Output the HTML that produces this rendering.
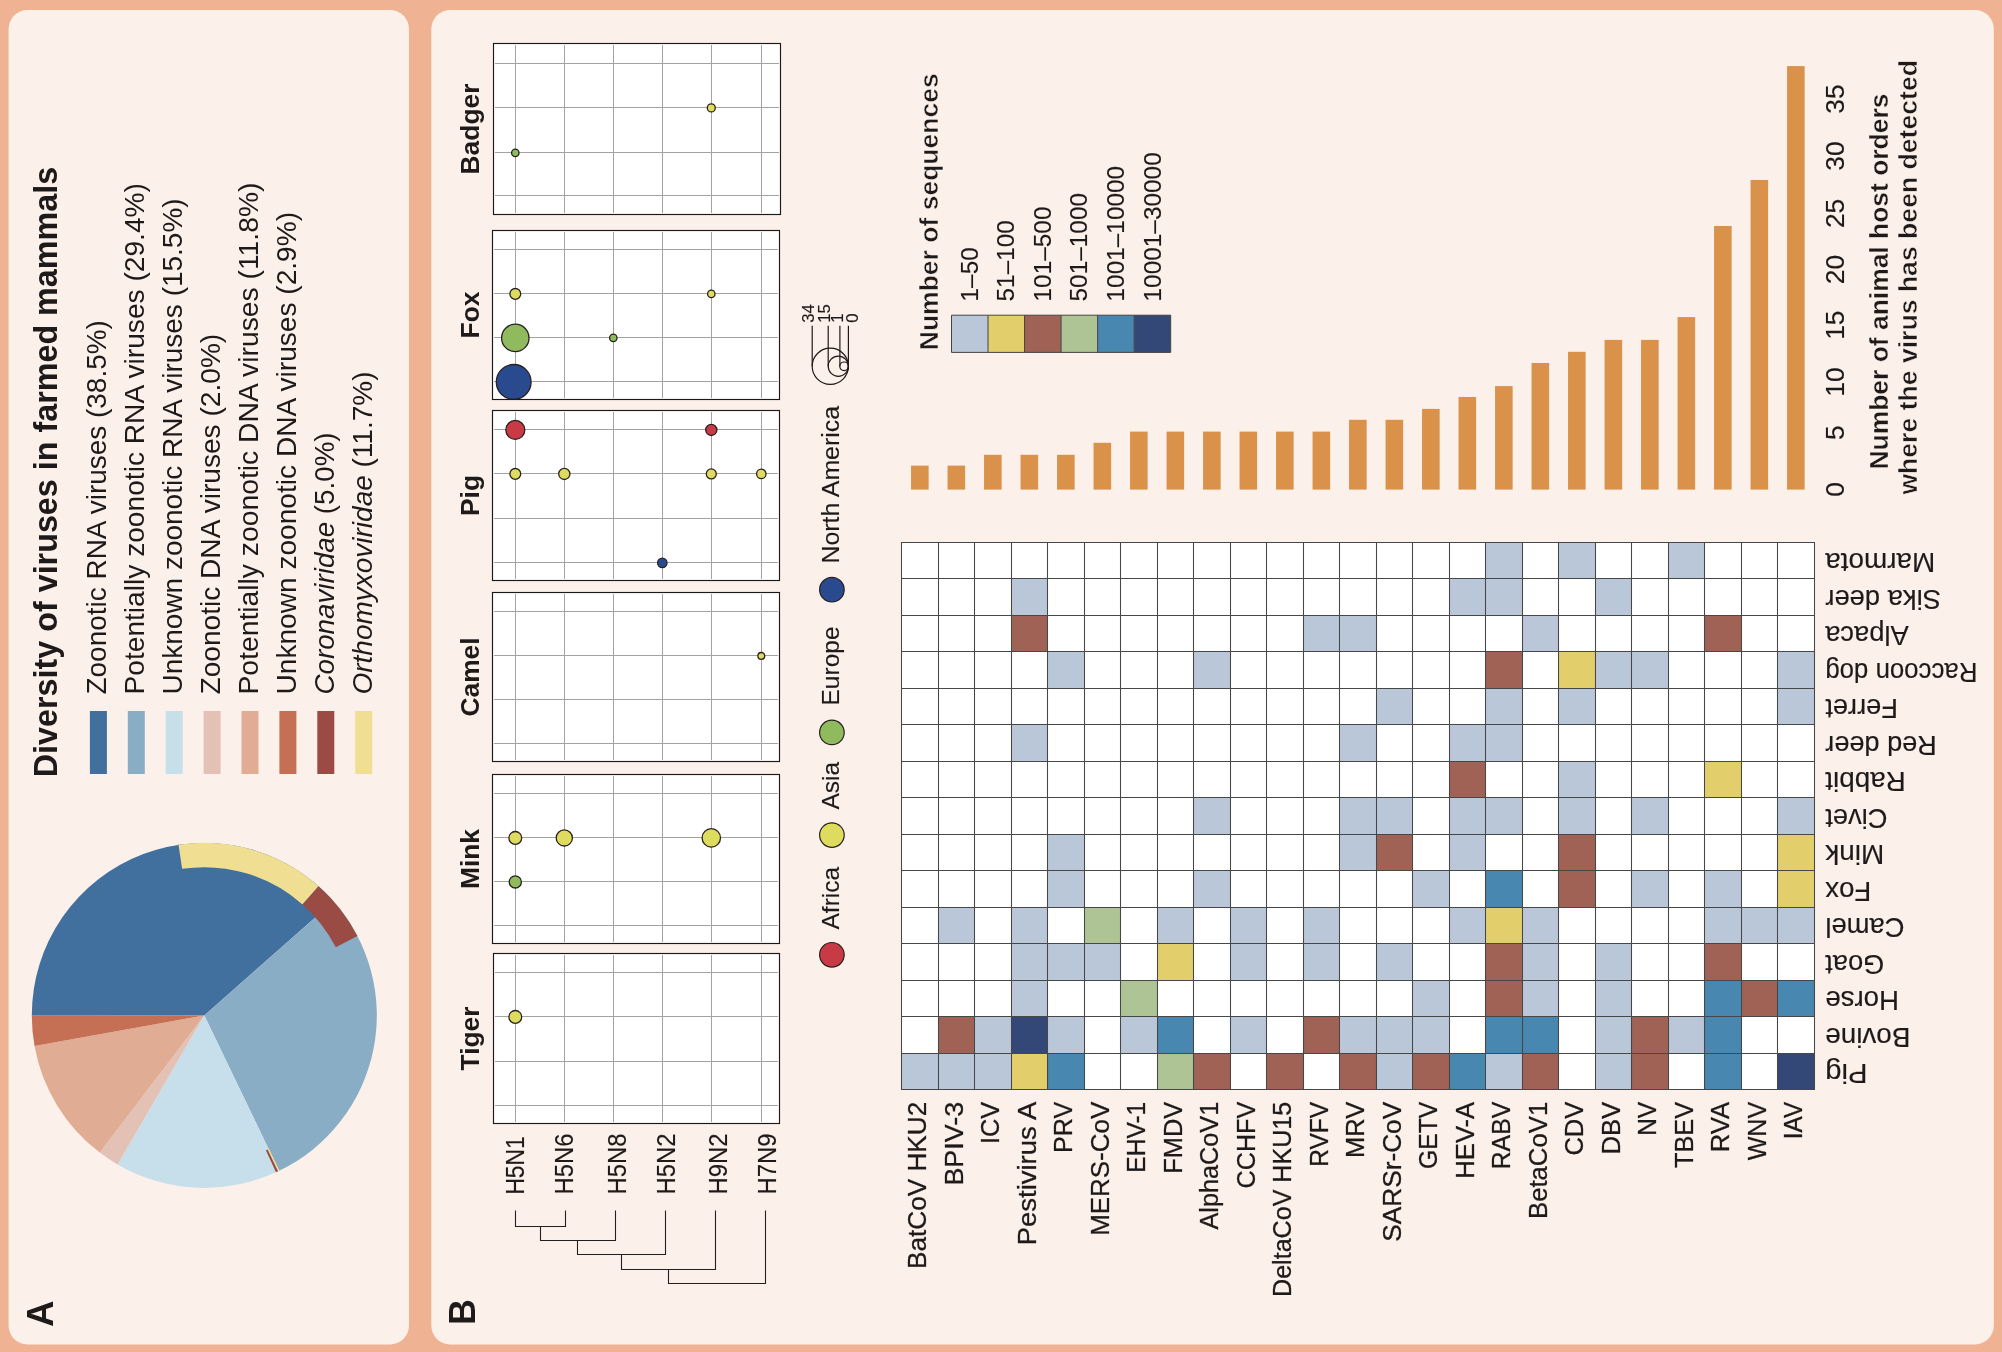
<!DOCTYPE html>
<html><head><meta charset="utf-8"><style>html,body{margin:0;padding:0;background:#EFB394;}svg{display:block;will-change:transform;} .r{stroke:#1E1A1A;stroke-width:0.15px;} .r2{stroke:#1E1A1A;stroke-width:0.3px;}</style></head>
<body><svg width="2002" height="1352" viewBox="0 0 2002 1352" font-family="&quot;Liberation Sans&quot;, sans-serif">
<rect x="0" y="0" width="2002" height="1352" fill="#EFB394"/>
<rect x="8.6" y="10" width="400.4" height="1334.5" rx="19" fill="#FCF1EA"/>
<rect x="431.3" y="10" width="1562.5" height="1334.5" rx="19" fill="#FCF1EA"/>
<text transform="translate(52.90,1327.00) rotate(-90)" font-size="36.5" font-weight="bold" fill="#1E1A1A">A</text>
<text transform="translate(56.70,777.20) rotate(-90)" font-size="32.3" font-weight="bold" fill="#1E1A1A">Diversity of viruses in farmed mammals</text>
<rect x="89.90" y="711" width="17" height="63" fill="#41709F"/>
<text transform="translate(106.40,694.50) rotate(-90) scale(1.0435,1)" font-size="26.8" fill="#1E1A1A">Zoonotic RNA viruses (38.5%)</text>
<rect x="127.80" y="711" width="17" height="63" fill="#89ADC5"/>
<text transform="translate(144.30,694.50) rotate(-90) scale(1.0508,1)" font-size="26.8" fill="#1E1A1A">Potentially zoonotic RNA viruses (29.4%)</text>
<rect x="165.70" y="711" width="17" height="63" fill="#C6DFEA"/>
<text transform="translate(182.20,694.50) rotate(-90) scale(1.0446,1)" font-size="26.8" fill="#1E1A1A">Unknown zoonotic RNA viruses (15.5%)</text>
<rect x="203.60" y="711" width="17" height="63" fill="#E4C1B5"/>
<text transform="translate(220.10,694.50) rotate(-90) scale(1.0487,1)" font-size="26.8" fill="#1E1A1A">Zoonotic DNA viruses (2.0%)</text>
<rect x="241.50" y="711" width="17" height="63" fill="#E0AC93"/>
<text transform="translate(258.00,694.50) rotate(-90) scale(1.056,1)" font-size="26.8" fill="#1E1A1A">Potentially zoonotic DNA viruses (11.8%)</text>
<rect x="279.40" y="711" width="17" height="63" fill="#C56F54"/>
<text transform="translate(295.90,694.50) rotate(-90) scale(1.0487,1)" font-size="26.8" fill="#1E1A1A">Unknown zoonotic DNA viruses (2.9%)</text>
<rect x="317.30" y="711" width="17" height="63" fill="#9A4B43"/>
<text transform="translate(333.80,694.5) rotate(-90) scale(1.0352,1)" font-size="26.8" fill="#1E1A1A"><tspan font-style="italic">Coronaviridae</tspan> (5.0%)</text>
<rect x="355.20" y="711" width="17" height="63" fill="#F0DE93"/>
<text transform="translate(371.70,694.5) rotate(-90) scale(1.0446,1)" font-size="26.8" fill="#1E1A1A"><tspan font-style="italic">Orthomyxoviridae</tspan> (11.7%)</text>
<path d="M204.30,1015.40 L31.80,1015.40 A172.5,172.5 0 0 1 333.69,901.32 Z" fill="#41709F"/>
<path d="M204.30,1015.40 L333.69,901.32 A172.5,172.5 0 0 1 279.11,1170.84 Z" fill="#89ADC5"/>
<path d="M204.30,1015.40 L279.11,1170.84 A172.5,172.5 0 0 1 117.53,1164.49 Z" fill="#C6DFEA"/>
<path d="M204.30,1015.40 L117.53,1164.49 A172.5,172.5 0 0 1 99.77,1152.62 Z" fill="#E4C1B5"/>
<path d="M204.30,1015.40 L99.77,1152.62 A172.5,172.5 0 0 1 34.53,1045.95 Z" fill="#E0AC93"/>
<path d="M204.30,1015.40 L34.53,1045.95 A172.5,172.5 0 0 1 31.80,1015.25 Z" fill="#C56F54"/>
<path d="M178.51,844.84 A172.5,172.5 0 0 1 318.60,886.21 L302.50,904.40 A148.2,148.2 0 0 0 182.14,868.87 Z" fill="#F0DE93"/>
<path d="M318.60,886.21 A172.5,172.5 0 0 1 357.45,936.02 L335.87,947.20 A148.2,148.2 0 0 0 302.50,904.40 Z" fill="#9A4B43"/>
<path d="M279.51,1170.64 A172.5,172.5 0 0 1 278.02,1171.35 L267.63,1149.39 A148.2,148.2 0 0 0 268.92,1148.77 Z" fill="#F0DE93"/>
<path d="M278.02,1171.35 A172.5,172.5 0 0 1 275.97,1172.31 L265.88,1150.20 A148.2,148.2 0 0 0 267.63,1149.39 Z" fill="#9A4B43"/>
<text transform="translate(475.00,1325.00) rotate(-90)" font-size="36.0" font-weight="bold" fill="#1E1A1A">B</text>
<rect x="493.5" y="43.5" width="287.0" height="171.0" fill="#FFFFFF"/>
<clipPath id="cpBadger"><rect x="493.5" y="43.5" width="287.0" height="171.0"/></clipPath>
<g clip-path="url(#cpBadger)">
<path d="M515.5,45.0 V213.0 M564.5,45.0 V213.0 M613.5,45.0 V213.0 M662.5,45.0 V213.0 M711.5,45.0 V213.0 M761.5,45.0 V213.0 M495.0,63.5 H779.0 M495.0,107.5 H779.0 M495.0,152.5 H779.0 M495.0,195.5 H779.0" stroke="#A3A3A3" stroke-width="1" fill="none"/>
<circle cx="711.3" cy="107.90" r="4.00" fill="#DDDC5E" stroke="#2A2020" stroke-width="1.3"/>
<circle cx="515.3" cy="152.90" r="3.70" fill="#8FBA5E" stroke="#2A2020" stroke-width="1.3"/>
</g>
<rect x="493.5" y="43.5" width="287.0" height="171.0" fill="none" stroke="#1E1818" stroke-width="1.15"/>
<text transform="translate(479.10,129.00) rotate(-90)" font-size="26.4" font-weight="bold" text-anchor="middle" fill="#1E1A1A">Badger</text>
<rect x="492.5" y="230.5" width="287.0" height="169.0" fill="#FFFFFF"/>
<clipPath id="cpFox"><rect x="492.5" y="230.5" width="287.0" height="169.0"/></clipPath>
<g clip-path="url(#cpFox)">
<path d="M515.5,232.0 V398.0 M564.5,232.0 V398.0 M613.5,232.0 V398.0 M662.5,232.0 V398.0 M711.5,232.0 V398.0 M761.5,232.0 V398.0 M494.0,249.5 H778.0 M494.0,293.5 H778.0 M494.0,337.5 H778.0 M494.0,381.5 H778.0" stroke="#A3A3A3" stroke-width="1" fill="none"/>
<circle cx="515.3" cy="293.90" r="5.40" fill="#DDDC5E" stroke="#2A2020" stroke-width="1.3"/>
<circle cx="515.3" cy="337.90" r="13.70" fill="#8FBA5E" stroke="#2A2020" stroke-width="1.3"/>
<circle cx="513.6999999999999" cy="381.90" r="17.40" fill="#294A8E" stroke="#2A2020" stroke-width="1.3"/>
<circle cx="613.3" cy="337.90" r="3.70" fill="#8FBA5E" stroke="#2A2020" stroke-width="1.3"/>
<circle cx="711.3" cy="293.90" r="3.70" fill="#DDDC5E" stroke="#2A2020" stroke-width="1.3"/>
</g>
<rect x="492.5" y="230.5" width="287.0" height="169.0" fill="none" stroke="#1E1818" stroke-width="1.15"/>
<text transform="translate(479.10,315.00) rotate(-90)" font-size="26.4" font-weight="bold" text-anchor="middle" fill="#1E1A1A">Fox</text>
<rect x="492.5" y="410.5" width="287.0" height="170.0" fill="#FFFFFF"/>
<clipPath id="cpPig"><rect x="492.5" y="410.5" width="287.0" height="170.0"/></clipPath>
<g clip-path="url(#cpPig)">
<path d="M515.5,412.0 V579.0 M564.5,412.0 V579.0 M613.5,412.0 V579.0 M662.5,412.0 V579.0 M711.5,412.0 V579.0 M761.5,412.0 V579.0 M494.0,429.5 H778.0 M494.0,473.5 H778.0 M494.0,518.5 H778.0 M494.0,562.5 H778.0" stroke="#A3A3A3" stroke-width="1" fill="none"/>
<circle cx="515.3" cy="429.90" r="9.50" fill="#C83A45" stroke="#2A2020" stroke-width="1.3"/>
<circle cx="711.3" cy="429.90" r="5.60" fill="#C83A45" stroke="#2A2020" stroke-width="1.3"/>
<circle cx="515.3" cy="473.90" r="5.40" fill="#DDDC5E" stroke="#2A2020" stroke-width="1.3"/>
<circle cx="564.3" cy="473.90" r="5.60" fill="#DDDC5E" stroke="#2A2020" stroke-width="1.3"/>
<circle cx="711.3" cy="473.90" r="5.00" fill="#DDDC5E" stroke="#2A2020" stroke-width="1.3"/>
<circle cx="761.3" cy="473.90" r="4.70" fill="#DDDC5E" stroke="#2A2020" stroke-width="1.3"/>
<circle cx="662.3" cy="562.90" r="4.70" fill="#294A8E" stroke="#2A2020" stroke-width="1.3"/>
</g>
<rect x="492.5" y="410.5" width="287.0" height="170.0" fill="none" stroke="#1E1818" stroke-width="1.15"/>
<text transform="translate(479.10,495.50) rotate(-90)" font-size="26.4" font-weight="bold" text-anchor="middle" fill="#1E1A1A">Pig</text>
<rect x="492.5" y="592.5" width="287.0" height="169.0" fill="#FFFFFF"/>
<clipPath id="cpCamel"><rect x="492.5" y="592.5" width="287.0" height="169.0"/></clipPath>
<g clip-path="url(#cpCamel)">
<path d="M515.5,594.0 V760.0 M564.5,594.0 V760.0 M613.5,594.0 V760.0 M662.5,594.0 V760.0 M711.5,594.0 V760.0 M761.5,594.0 V760.0 M494.0,611.5 H778.0 M494.0,655.5 H778.0 M494.0,699.5 H778.0 M494.0,743.5 H778.0" stroke="#A3A3A3" stroke-width="1" fill="none"/>
<circle cx="761.3" cy="655.90" r="3.40" fill="#DDDC5E" stroke="#2A2020" stroke-width="1.3"/>
</g>
<rect x="492.5" y="592.5" width="287.0" height="169.0" fill="none" stroke="#1E1818" stroke-width="1.15"/>
<text transform="translate(479.10,677.00) rotate(-90)" font-size="26.4" font-weight="bold" text-anchor="middle" fill="#1E1A1A">Camel</text>
<rect x="492.5" y="774.5" width="287.0" height="169.0" fill="#FFFFFF"/>
<clipPath id="cpMink"><rect x="492.5" y="774.5" width="287.0" height="169.0"/></clipPath>
<g clip-path="url(#cpMink)">
<path d="M515.5,776.0 V942.0 M564.5,776.0 V942.0 M613.5,776.0 V942.0 M662.5,776.0 V942.0 M711.5,776.0 V942.0 M761.5,776.0 V942.0 M494.0,793.5 H778.0 M494.0,837.5 H778.0 M494.0,881.5 H778.0 M494.0,925.5 H778.0" stroke="#A3A3A3" stroke-width="1" fill="none"/>
<circle cx="515.3" cy="837.90" r="6.40" fill="#DDDC5E" stroke="#2A2020" stroke-width="1.3"/>
<circle cx="564.3" cy="837.90" r="8.10" fill="#DDDC5E" stroke="#2A2020" stroke-width="1.3"/>
<circle cx="711.3" cy="837.90" r="9.20" fill="#DDDC5E" stroke="#2A2020" stroke-width="1.3"/>
<circle cx="515.3" cy="881.90" r="6.10" fill="#8FBA5E" stroke="#2A2020" stroke-width="1.3"/>
</g>
<rect x="492.5" y="774.5" width="287.0" height="169.0" fill="none" stroke="#1E1818" stroke-width="1.15"/>
<text transform="translate(479.10,859.00) rotate(-90)" font-size="26.4" font-weight="bold" text-anchor="middle" fill="#1E1A1A">Mink</text>
<rect x="493.5" y="953.5" width="286.0" height="170.0" fill="#FFFFFF"/>
<clipPath id="cpTiger"><rect x="493.5" y="953.5" width="286.0" height="170.0"/></clipPath>
<g clip-path="url(#cpTiger)">
<path d="M515.5,955.0 V1122.0 M564.5,955.0 V1122.0 M613.5,955.0 V1122.0 M662.5,955.0 V1122.0 M711.5,955.0 V1122.0 M761.5,955.0 V1122.0 M495.0,972.5 H778.0 M495.0,1016.5 H778.0 M495.0,1061.5 H778.0 M495.0,1105.5 H778.0" stroke="#A3A3A3" stroke-width="1" fill="none"/>
<circle cx="515.3" cy="1016.90" r="6.40" fill="#DDDC5E" stroke="#2A2020" stroke-width="1.3"/>
</g>
<rect x="493.5" y="953.5" width="286.0" height="170.0" fill="none" stroke="#1E1818" stroke-width="1.15"/>
<text transform="translate(479.10,1038.50) rotate(-90)" font-size="26.4" font-weight="bold" text-anchor="middle" fill="#1E1A1A">Tiger</text>
<text transform="translate(523.80,1194.60) rotate(-90) scale(0.905,1)" font-size="25.2" class="r" fill="#1E1A1A">H5N1</text>
<text transform="translate(572.80,1194.60) rotate(-90) scale(0.95,1)" font-size="25.2" class="r" fill="#1E1A1A">H5N6</text>
<text transform="translate(625.50,1194.60) rotate(-90) scale(0.95,1)" font-size="25.2" class="r" fill="#1E1A1A">H5N8</text>
<text transform="translate(675.10,1194.60) rotate(-90) scale(0.95,1)" font-size="25.2" class="r" fill="#1E1A1A">H5N2</text>
<text transform="translate(726.80,1194.60) rotate(-90) scale(0.95,1)" font-size="25.2" class="r" fill="#1E1A1A">H9N2</text>
<text transform="translate(775.70,1194.60) rotate(-90) scale(0.95,1)" font-size="25.2" class="r" fill="#1E1A1A">H7N9</text>
<path d="M515.5,1211 L515.5,1226.5 M565.5,1211 L565.5,1226.5 M515.5,1226.5 L565.5,1226.5 M540.5,1226.5 L540.5,1240.5 M615.5,1211 L615.5,1240.5 M540.5,1240.5 L615.5,1240.5 M577.5,1240.5 L577.5,1254.5 M665.5,1211 L665.5,1254.5 M577.5,1254.5 L665.5,1254.5 M621.5,1254.5 L621.5,1269.5 M715.5,1211 L715.5,1269.5 M621.5,1269.5 L715.5,1269.5 M668.5,1269.5 L668.5,1283.5 M765.5,1211 L765.5,1283.5 M668.5,1283.5 L765.5,1283.5" stroke="#231F20" stroke-width="1.1" fill="none" stroke-linecap="square"/>
<circle cx="831.9" cy="954.8" r="12.3" fill="#C83A45" stroke="#2A2020" stroke-width="1.2"/>
<text transform="translate(838.80,929.50) rotate(-90)" font-size="24.5" class="r" fill="#1E1A1A">Africa</text>
<circle cx="831.9" cy="835.1" r="12.3" fill="#DDDC5E" stroke="#2A2020" stroke-width="1.2"/>
<text transform="translate(838.80,809.50) rotate(-90)" font-size="24.5" class="r" fill="#1E1A1A">Asia</text>
<circle cx="831.9" cy="732.4" r="12.3" fill="#8FBA5E" stroke="#2A2020" stroke-width="1.2"/>
<text transform="translate(838.80,705.50) rotate(-90)" font-size="24.5" class="r" fill="#1E1A1A">Europe</text>
<circle cx="831.9" cy="589.7" r="12.3" fill="#294A8E" stroke="#2A2020" stroke-width="1.2"/>
<text transform="translate(838.80,563.50) rotate(-90) scale(1.015,1)" font-size="24.5" class="r" fill="#1E1A1A">North America</text>
<circle cx="830.3" cy="366.3" r="18.1" fill="none" stroke="#1E1818" stroke-width="1.2"/>
<circle cx="838.3" cy="366.3" r="10.1" fill="none" stroke="#1E1818" stroke-width="1.2"/>
<circle cx="844.1" cy="366.3" r="4.3" fill="none" stroke="#1E1818" stroke-width="1.2"/>
<line x1="812.2" y1="325.8" x2="812.2" y2="366.3" stroke="#1E1818" stroke-width="1.2"/>
<line x1="828.2" y1="325.8" x2="828.2" y2="366.3" stroke="#1E1818" stroke-width="1.2"/>
<line x1="839.9" y1="325.8" x2="839.9" y2="366.3" stroke="#1E1818" stroke-width="1.2"/>
<line x1="848.4" y1="325.8" x2="848.4" y2="369.5" stroke="#1E1818" stroke-width="1.2"/>
<text transform="translate(814.40,322.80) rotate(-90)" font-size="16.8" class="r" fill="#1E1A1A">34</text>
<text transform="translate(830.30,322.80) rotate(-90)" font-size="16.8" class="r" fill="#1E1A1A">15</text>
<text transform="translate(843.30,322.80) rotate(-90)" font-size="16.8" class="r" fill="#1E1A1A">1</text>
<text transform="translate(857.50,322.80) rotate(-90)" font-size="16.8" class="r" fill="#1E1A1A">0</text>
<rect x="901.5" y="542.5" width="913.0" height="547.0" fill="#FFFFFF"/>
<rect x="1485.5" y="542.5" width="37.0" height="36.0" fill="#B9C7D9"/>
<rect x="1558.5" y="542.5" width="37.0" height="36.0" fill="#B9C7D9"/>
<rect x="1668.5" y="542.5" width="36.0" height="36.0" fill="#B9C7D9"/>
<rect x="1011.5" y="578.5" width="36.0" height="37.0" fill="#B9C7D9"/>
<rect x="1449.5" y="578.5" width="36.0" height="37.0" fill="#B9C7D9"/>
<rect x="1485.5" y="578.5" width="37.0" height="37.0" fill="#B9C7D9"/>
<rect x="1595.5" y="578.5" width="36.0" height="37.0" fill="#B9C7D9"/>
<rect x="1011.5" y="615.5" width="36.0" height="36.0" fill="#A06255"/>
<rect x="1303.5" y="615.5" width="36.0" height="36.0" fill="#B9C7D9"/>
<rect x="1339.5" y="615.5" width="37.0" height="36.0" fill="#B9C7D9"/>
<rect x="1522.5" y="615.5" width="36.0" height="36.0" fill="#B9C7D9"/>
<rect x="1704.5" y="615.5" width="37.0" height="36.0" fill="#A06255"/>
<rect x="1047.5" y="651.5" width="37.0" height="37.0" fill="#B9C7D9"/>
<rect x="1193.5" y="651.5" width="37.0" height="37.0" fill="#B9C7D9"/>
<rect x="1485.5" y="651.5" width="37.0" height="37.0" fill="#A06255"/>
<rect x="1558.5" y="651.5" width="37.0" height="37.0" fill="#E2CF6C"/>
<rect x="1595.5" y="651.5" width="36.0" height="37.0" fill="#B9C7D9"/>
<rect x="1631.5" y="651.5" width="37.0" height="37.0" fill="#B9C7D9"/>
<rect x="1777.5" y="651.5" width="37.0" height="37.0" fill="#B9C7D9"/>
<rect x="1376.5" y="688.5" width="36.0" height="36.0" fill="#B9C7D9"/>
<rect x="1485.5" y="688.5" width="37.0" height="36.0" fill="#B9C7D9"/>
<rect x="1558.5" y="688.5" width="37.0" height="36.0" fill="#B9C7D9"/>
<rect x="1777.5" y="688.5" width="37.0" height="36.0" fill="#B9C7D9"/>
<rect x="1011.5" y="724.5" width="36.0" height="37.0" fill="#B9C7D9"/>
<rect x="1339.5" y="724.5" width="37.0" height="37.0" fill="#B9C7D9"/>
<rect x="1449.5" y="724.5" width="36.0" height="37.0" fill="#B9C7D9"/>
<rect x="1485.5" y="724.5" width="37.0" height="37.0" fill="#B9C7D9"/>
<rect x="1449.5" y="761.5" width="36.0" height="36.0" fill="#A06255"/>
<rect x="1558.5" y="761.5" width="37.0" height="36.0" fill="#B9C7D9"/>
<rect x="1704.5" y="761.5" width="37.0" height="36.0" fill="#E2CF6C"/>
<rect x="1193.5" y="797.5" width="37.0" height="37.0" fill="#B9C7D9"/>
<rect x="1339.5" y="797.5" width="37.0" height="37.0" fill="#B9C7D9"/>
<rect x="1376.5" y="797.5" width="36.0" height="37.0" fill="#B9C7D9"/>
<rect x="1449.5" y="797.5" width="36.0" height="37.0" fill="#B9C7D9"/>
<rect x="1485.5" y="797.5" width="37.0" height="37.0" fill="#B9C7D9"/>
<rect x="1558.5" y="797.5" width="37.0" height="37.0" fill="#B9C7D9"/>
<rect x="1631.5" y="797.5" width="37.0" height="37.0" fill="#B9C7D9"/>
<rect x="1777.5" y="797.5" width="37.0" height="37.0" fill="#B9C7D9"/>
<rect x="1047.5" y="834.5" width="37.0" height="36.0" fill="#B9C7D9"/>
<rect x="1339.5" y="834.5" width="37.0" height="36.0" fill="#B9C7D9"/>
<rect x="1376.5" y="834.5" width="36.0" height="36.0" fill="#A06255"/>
<rect x="1449.5" y="834.5" width="36.0" height="36.0" fill="#B9C7D9"/>
<rect x="1558.5" y="834.5" width="37.0" height="36.0" fill="#A06255"/>
<rect x="1777.5" y="834.5" width="37.0" height="36.0" fill="#E2CF6C"/>
<rect x="1047.5" y="870.5" width="37.0" height="37.0" fill="#B9C7D9"/>
<rect x="1193.5" y="870.5" width="37.0" height="37.0" fill="#B9C7D9"/>
<rect x="1412.5" y="870.5" width="37.0" height="37.0" fill="#B9C7D9"/>
<rect x="1485.5" y="870.5" width="37.0" height="37.0" fill="#4787B0"/>
<rect x="1558.5" y="870.5" width="37.0" height="37.0" fill="#A06255"/>
<rect x="1631.5" y="870.5" width="37.0" height="37.0" fill="#B9C7D9"/>
<rect x="1704.5" y="870.5" width="37.0" height="37.0" fill="#B9C7D9"/>
<rect x="1777.5" y="870.5" width="37.0" height="37.0" fill="#E2CF6C"/>
<rect x="938.5" y="907.5" width="36.0" height="36.0" fill="#B9C7D9"/>
<rect x="1011.5" y="907.5" width="36.0" height="36.0" fill="#B9C7D9"/>
<rect x="1084.5" y="907.5" width="36.0" height="36.0" fill="#AEC495"/>
<rect x="1157.5" y="907.5" width="36.0" height="36.0" fill="#B9C7D9"/>
<rect x="1230.5" y="907.5" width="36.0" height="36.0" fill="#B9C7D9"/>
<rect x="1303.5" y="907.5" width="36.0" height="36.0" fill="#B9C7D9"/>
<rect x="1449.5" y="907.5" width="36.0" height="36.0" fill="#B9C7D9"/>
<rect x="1485.5" y="907.5" width="37.0" height="36.0" fill="#E2CF6C"/>
<rect x="1522.5" y="907.5" width="36.0" height="36.0" fill="#B9C7D9"/>
<rect x="1704.5" y="907.5" width="37.0" height="36.0" fill="#B9C7D9"/>
<rect x="1741.5" y="907.5" width="36.0" height="36.0" fill="#B9C7D9"/>
<rect x="1777.5" y="907.5" width="37.0" height="36.0" fill="#B9C7D9"/>
<rect x="1011.5" y="943.5" width="36.0" height="37.0" fill="#B9C7D9"/>
<rect x="1047.5" y="943.5" width="37.0" height="37.0" fill="#B9C7D9"/>
<rect x="1084.5" y="943.5" width="36.0" height="37.0" fill="#B9C7D9"/>
<rect x="1157.5" y="943.5" width="36.0" height="37.0" fill="#E2CF6C"/>
<rect x="1230.5" y="943.5" width="36.0" height="37.0" fill="#B9C7D9"/>
<rect x="1303.5" y="943.5" width="36.0" height="37.0" fill="#B9C7D9"/>
<rect x="1376.5" y="943.5" width="36.0" height="37.0" fill="#B9C7D9"/>
<rect x="1485.5" y="943.5" width="37.0" height="37.0" fill="#A06255"/>
<rect x="1522.5" y="943.5" width="36.0" height="37.0" fill="#B9C7D9"/>
<rect x="1595.5" y="943.5" width="36.0" height="37.0" fill="#B9C7D9"/>
<rect x="1704.5" y="943.5" width="37.0" height="37.0" fill="#A06255"/>
<rect x="1011.5" y="980.5" width="36.0" height="36.0" fill="#B9C7D9"/>
<rect x="1120.5" y="980.5" width="37.0" height="36.0" fill="#AEC495"/>
<rect x="1412.5" y="980.5" width="37.0" height="36.0" fill="#B9C7D9"/>
<rect x="1485.5" y="980.5" width="37.0" height="36.0" fill="#A06255"/>
<rect x="1522.5" y="980.5" width="36.0" height="36.0" fill="#B9C7D9"/>
<rect x="1595.5" y="980.5" width="36.0" height="36.0" fill="#B9C7D9"/>
<rect x="1704.5" y="980.5" width="37.0" height="36.0" fill="#4787B0"/>
<rect x="1741.5" y="980.5" width="36.0" height="36.0" fill="#A06255"/>
<rect x="1777.5" y="980.5" width="37.0" height="36.0" fill="#4787B0"/>
<rect x="938.5" y="1016.5" width="36.0" height="37.0" fill="#A06255"/>
<rect x="974.5" y="1016.5" width="37.0" height="37.0" fill="#B9C7D9"/>
<rect x="1011.5" y="1016.5" width="36.0" height="37.0" fill="#344878"/>
<rect x="1047.5" y="1016.5" width="37.0" height="37.0" fill="#B9C7D9"/>
<rect x="1120.5" y="1016.5" width="37.0" height="37.0" fill="#B9C7D9"/>
<rect x="1157.5" y="1016.5" width="36.0" height="37.0" fill="#4787B0"/>
<rect x="1230.5" y="1016.5" width="36.0" height="37.0" fill="#B9C7D9"/>
<rect x="1303.5" y="1016.5" width="36.0" height="37.0" fill="#A06255"/>
<rect x="1339.5" y="1016.5" width="37.0" height="37.0" fill="#B9C7D9"/>
<rect x="1376.5" y="1016.5" width="36.0" height="37.0" fill="#B9C7D9"/>
<rect x="1412.5" y="1016.5" width="37.0" height="37.0" fill="#B9C7D9"/>
<rect x="1485.5" y="1016.5" width="37.0" height="37.0" fill="#4787B0"/>
<rect x="1522.5" y="1016.5" width="36.0" height="37.0" fill="#4787B0"/>
<rect x="1595.5" y="1016.5" width="36.0" height="37.0" fill="#B9C7D9"/>
<rect x="1631.5" y="1016.5" width="37.0" height="37.0" fill="#A06255"/>
<rect x="1668.5" y="1016.5" width="36.0" height="37.0" fill="#B9C7D9"/>
<rect x="1704.5" y="1016.5" width="37.0" height="37.0" fill="#4787B0"/>
<rect x="901.5" y="1053.5" width="37.0" height="36.0" fill="#B9C7D9"/>
<rect x="938.5" y="1053.5" width="36.0" height="36.0" fill="#B9C7D9"/>
<rect x="974.5" y="1053.5" width="37.0" height="36.0" fill="#B9C7D9"/>
<rect x="1011.5" y="1053.5" width="36.0" height="36.0" fill="#E2CF6C"/>
<rect x="1047.5" y="1053.5" width="37.0" height="36.0" fill="#4787B0"/>
<rect x="1157.5" y="1053.5" width="36.0" height="36.0" fill="#AEC495"/>
<rect x="1193.5" y="1053.5" width="37.0" height="36.0" fill="#A06255"/>
<rect x="1266.5" y="1053.5" width="37.0" height="36.0" fill="#A06255"/>
<rect x="1339.5" y="1053.5" width="37.0" height="36.0" fill="#A06255"/>
<rect x="1376.5" y="1053.5" width="36.0" height="36.0" fill="#B9C7D9"/>
<rect x="1412.5" y="1053.5" width="37.0" height="36.0" fill="#A06255"/>
<rect x="1449.5" y="1053.5" width="36.0" height="36.0" fill="#4787B0"/>
<rect x="1485.5" y="1053.5" width="37.0" height="36.0" fill="#B9C7D9"/>
<rect x="1522.5" y="1053.5" width="36.0" height="36.0" fill="#A06255"/>
<rect x="1595.5" y="1053.5" width="36.0" height="36.0" fill="#B9C7D9"/>
<rect x="1631.5" y="1053.5" width="37.0" height="36.0" fill="#A06255"/>
<rect x="1704.5" y="1053.5" width="37.0" height="36.0" fill="#4787B0"/>
<rect x="1777.5" y="1053.5" width="37.0" height="36.0" fill="#344878"/>
<path d="M901.5,542.5 V1089.5 M938.5,542.5 V1089.5 M974.5,542.5 V1089.5 M1011.5,542.5 V1089.5 M1047.5,542.5 V1089.5 M1084.5,542.5 V1089.5 M1120.5,542.5 V1089.5 M1157.5,542.5 V1089.5 M1193.5,542.5 V1089.5 M1230.5,542.5 V1089.5 M1266.5,542.5 V1089.5 M1303.5,542.5 V1089.5 M1339.5,542.5 V1089.5 M1376.5,542.5 V1089.5 M1412.5,542.5 V1089.5 M1449.5,542.5 V1089.5 M1485.5,542.5 V1089.5 M1522.5,542.5 V1089.5 M1558.5,542.5 V1089.5 M1595.5,542.5 V1089.5 M1631.5,542.5 V1089.5 M1668.5,542.5 V1089.5 M1704.5,542.5 V1089.5 M1741.5,542.5 V1089.5 M1777.5,542.5 V1089.5 M1814.5,542.5 V1089.5 M901.5,542.5 H1814.5 M901.5,578.5 H1814.5 M901.5,615.5 H1814.5 M901.5,651.5 H1814.5 M901.5,688.5 H1814.5 M901.5,724.5 H1814.5 M901.5,761.5 H1814.5 M901.5,797.5 H1814.5 M901.5,834.5 H1814.5 M901.5,870.5 H1814.5 M901.5,907.5 H1814.5 M901.5,943.5 H1814.5 M901.5,980.5 H1814.5 M901.5,1016.5 H1814.5 M901.5,1053.5 H1814.5 M901.5,1089.5 H1814.5" stroke="#474747" stroke-width="1.05" fill="none" stroke-linecap="square"/>
<text transform="translate(926.15,1101.80) rotate(-90) scale(0.9948,1)" font-size="26.3" text-anchor="end" class="r2" fill="#1E1A1A">BatCoV HKU2</text>
<text transform="translate(962.65,1101.80) rotate(-90) scale(1.0237,1)" font-size="26.3" text-anchor="end" class="r2" fill="#1E1A1A">BPIV-3</text>
<text transform="translate(999.15,1101.80) rotate(-90) scale(0.9629,1)" font-size="26.3" text-anchor="end" class="r2" fill="#1E1A1A">ICV</text>
<text transform="translate(1035.65,1101.80) rotate(-90) scale(1.045,1)" font-size="26.3" text-anchor="end" class="r2" fill="#1E1A1A">Pestivirus A</text>
<text transform="translate(1072.15,1101.80) rotate(-90) scale(0.9542,1)" font-size="26.3" text-anchor="end" class="r2" fill="#1E1A1A">PRV</text>
<text transform="translate(1108.65,1101.80) rotate(-90) scale(0.987,1)" font-size="26.3" text-anchor="end" class="r2" fill="#1E1A1A">MERS-CoV</text>
<text transform="translate(1145.15,1101.80) rotate(-90) scale(0.9329,1)" font-size="26.3" text-anchor="end" class="r2" fill="#1E1A1A">EHV-1</text>
<text transform="translate(1181.65,1101.80) rotate(-90) scale(0.9667,1)" font-size="26.3" text-anchor="end" class="r2" fill="#1E1A1A">FMDV</text>
<text transform="translate(1218.15,1101.80) rotate(-90) scale(0.96,1)" font-size="26.3" text-anchor="end" class="r2" fill="#1E1A1A">AlphaCoV1</text>
<text transform="translate(1254.65,1101.80) rotate(-90) scale(0.9561,1)" font-size="26.3" text-anchor="end" class="r2" fill="#1E1A1A">CCHFV</text>
<text transform="translate(1291.15,1101.80) rotate(-90) scale(0.9542,1)" font-size="26.3" text-anchor="end" class="r2" fill="#1E1A1A">DeltaCoV HKU15</text>
<text transform="translate(1327.65,1101.80) rotate(-90) scale(0.9329,1)" font-size="26.3" text-anchor="end" class="r2" fill="#1E1A1A">RVFV</text>
<text transform="translate(1364.15,1101.80) rotate(-90) scale(0.9696,1)" font-size="26.3" text-anchor="end" class="r2" fill="#1E1A1A">MRV</text>
<text transform="translate(1400.65,1101.80) rotate(-90) scale(0.9986,1)" font-size="26.3" text-anchor="end" class="r2" fill="#1E1A1A">SARSr-CoV</text>
<text transform="translate(1437.15,1101.80) rotate(-90) scale(0.9397,1)" font-size="26.3" text-anchor="end" class="r2" fill="#1E1A1A">GETV</text>
<text transform="translate(1473.65,1101.80) rotate(-90) scale(0.9745,1)" font-size="26.3" text-anchor="end" class="r2" fill="#1E1A1A">HEV-A</text>
<text transform="translate(1510.15,1101.80) rotate(-90) scale(0.9426,1)" font-size="26.3" text-anchor="end" class="r2" fill="#1E1A1A">RABV</text>
<text transform="translate(1546.65,1101.80) rotate(-90) scale(0.9783,1)" font-size="26.3" text-anchor="end" class="r2" fill="#1E1A1A">BetaCoV1</text>
<text transform="translate(1583.15,1101.80) rotate(-90) scale(0.9696,1)" font-size="26.3" text-anchor="end" class="r2" fill="#1E1A1A">CDV</text>
<text transform="translate(1619.65,1101.80) rotate(-90) scale(0.9754,1)" font-size="26.3" text-anchor="end" class="r2" fill="#1E1A1A">DBV</text>
<text transform="translate(1656.15,1101.80) rotate(-90) scale(0.931,1)" font-size="26.3" text-anchor="end" class="r2" fill="#1E1A1A">NV</text>
<text transform="translate(1692.65,1101.80) rotate(-90) scale(0.9658,1)" font-size="26.3" text-anchor="end" class="r2" fill="#1E1A1A">TBEV</text>
<text transform="translate(1729.15,1101.80) rotate(-90) scale(0.9764,1)" font-size="26.3" text-anchor="end" class="r2" fill="#1E1A1A">RVA</text>
<text transform="translate(1765.65,1101.80) rotate(-90) scale(0.9542,1)" font-size="26.3" text-anchor="end" class="r2" fill="#1E1A1A">WNV</text>
<text transform="translate(1802.15,1101.80) rotate(-90) scale(0.9233,1)" font-size="26.3" text-anchor="end" class="r2" fill="#1E1A1A">IAV</text>
<text transform="translate(1825.30,553.15) rotate(180) scale(1.032,1)" font-size="27.0" text-anchor="end" class="r" fill="#1E1A1A">Marmota</text>
<text transform="translate(1825.30,589.65) rotate(180) scale(1.014,1)" font-size="27.0" text-anchor="end" class="r" fill="#1E1A1A">Sika deer</text>
<text transform="translate(1825.30,626.15) rotate(180) scale(1.011,1)" font-size="27.0" text-anchor="end" class="r" fill="#1E1A1A">Alpaca</text>
<text transform="translate(1825.30,662.65) rotate(180) scale(0.956,1)" font-size="27.0" text-anchor="end" class="r" fill="#1E1A1A">Raccoon dog</text>
<text transform="translate(1825.30,699.15) rotate(180) scale(1.009,1)" font-size="27.0" text-anchor="end" class="r" fill="#1E1A1A">Ferret</text>
<text transform="translate(1825.30,735.65) rotate(180) scale(1.005,1)" font-size="27.0" text-anchor="end" class="r" fill="#1E1A1A">Red deer</text>
<text transform="translate(1825.30,772.15) rotate(180) scale(1.032,1)" font-size="27.0" text-anchor="end" class="r" fill="#1E1A1A">Rabbit</text>
<text transform="translate(1825.30,808.65) rotate(180) scale(1.012,1)" font-size="27.0" text-anchor="end" class="r" fill="#1E1A1A">Civet</text>
<text transform="translate(1825.30,845.15) rotate(180) scale(1.035,1)" font-size="27.0" text-anchor="end" class="r" fill="#1E1A1A">Mink</text>
<text transform="translate(1825.30,881.65) rotate(180) scale(1.024,1)" font-size="27.0" text-anchor="end" class="r" fill="#1E1A1A">Fox</text>
<text transform="translate(1825.30,918.15) rotate(180) scale(1.016,1)" font-size="27.0" text-anchor="end" class="r" fill="#1E1A1A">Camel</text>
<text transform="translate(1825.30,954.65) rotate(180) scale(1.009,1)" font-size="27.0" text-anchor="end" class="r" fill="#1E1A1A">Goat</text>
<text transform="translate(1825.30,991.15) rotate(180) scale(1.024,1)" font-size="27.0" text-anchor="end" class="r" fill="#1E1A1A">Horse</text>
<text transform="translate(1825.30,1027.65) rotate(180) scale(1.031,1)" font-size="27.0" text-anchor="end" class="r" fill="#1E1A1A">Bovine</text>
<text transform="translate(1825.30,1064.15) rotate(180) scale(1.082,1)" font-size="27.0" text-anchor="end" class="r" fill="#1E1A1A">Pig</text>
<text transform="translate(938.3,350.2) rotate(-90)" font-size="26.5" font-weight="bold" fill="#1E1A1A" stroke="#FCF1EA" stroke-width="0.5">Number of sequences</text>
<rect x="951.50" y="315.2" width="36.53" height="37.2" fill="#B9C7D9"/>
<text transform="translate(977.90,301.50) rotate(-90)" font-size="24.4" class="r" fill="#1E1A1A">1–50</text>
<rect x="988.03" y="315.2" width="36.53" height="37.2" fill="#E2CF6C"/>
<text transform="translate(1014.43,301.50) rotate(-90)" font-size="24.4" class="r" fill="#1E1A1A">51–100</text>
<rect x="1024.56" y="315.2" width="36.53" height="37.2" fill="#A06255"/>
<text transform="translate(1050.96,301.50) rotate(-90)" font-size="24.4" class="r" fill="#1E1A1A">101–500</text>
<rect x="1061.09" y="315.2" width="36.53" height="37.2" fill="#AEC495"/>
<text transform="translate(1087.49,301.50) rotate(-90)" font-size="24.4" class="r" fill="#1E1A1A">501–1000</text>
<rect x="1097.62" y="315.2" width="36.53" height="37.2" fill="#4787B0"/>
<text transform="translate(1124.02,301.50) rotate(-90)" font-size="24.4" class="r" fill="#1E1A1A">1001–10000</text>
<rect x="1134.15" y="315.2" width="36.53" height="37.2" fill="#344878"/>
<text transform="translate(1160.55,301.50) rotate(-90)" font-size="24.4" class="r" fill="#1E1A1A">10001–30000</text>
<path d="M951.5,315.2 H1170.7 V352.4 H951.5 Z M988.03,315.2 V352.4 M1024.56,315.2 V352.4 M1061.09,315.2 V352.4 M1097.62,315.2 V352.4 M1134.15,315.2 V352.4" stroke="#444444" stroke-width="1" fill="none"/>
<rect x="911.05" y="465.60" width="17.6" height="24" fill="#DA914A"/>
<rect x="947.55" y="465.60" width="17.6" height="24" fill="#DA914A"/>
<rect x="984.05" y="454.80" width="17.6" height="34.8" fill="#DA914A"/>
<rect x="1020.55" y="454.80" width="17.6" height="34.8" fill="#DA914A"/>
<rect x="1057.05" y="454.80" width="17.6" height="34.8" fill="#DA914A"/>
<rect x="1093.55" y="442.80" width="17.6" height="46.8" fill="#DA914A"/>
<rect x="1130.05" y="431.60" width="17.6" height="58" fill="#DA914A"/>
<rect x="1166.55" y="431.60" width="17.6" height="58" fill="#DA914A"/>
<rect x="1203.05" y="431.60" width="17.6" height="58" fill="#DA914A"/>
<rect x="1239.55" y="431.60" width="17.6" height="58" fill="#DA914A"/>
<rect x="1276.05" y="431.60" width="17.6" height="58" fill="#DA914A"/>
<rect x="1312.55" y="431.60" width="17.6" height="58" fill="#DA914A"/>
<rect x="1349.05" y="419.80" width="17.6" height="69.8" fill="#DA914A"/>
<rect x="1385.55" y="419.80" width="17.6" height="69.8" fill="#DA914A"/>
<rect x="1422.05" y="408.90" width="17.6" height="80.7" fill="#DA914A"/>
<rect x="1458.55" y="397.00" width="17.6" height="92.6" fill="#DA914A"/>
<rect x="1495.05" y="386.10" width="17.6" height="103.5" fill="#DA914A"/>
<rect x="1531.55" y="363.00" width="17.6" height="126.6" fill="#DA914A"/>
<rect x="1568.05" y="351.80" width="17.6" height="137.8" fill="#DA914A"/>
<rect x="1604.55" y="339.90" width="17.6" height="149.7" fill="#DA914A"/>
<rect x="1641.05" y="339.90" width="17.6" height="149.7" fill="#DA914A"/>
<rect x="1677.55" y="317.10" width="17.6" height="172.5" fill="#DA914A"/>
<rect x="1714.05" y="226.00" width="17.6" height="263.6" fill="#DA914A"/>
<rect x="1750.55" y="180.00" width="17.6" height="309.6" fill="#DA914A"/>
<rect x="1787.05" y="66.10" width="17.6" height="423.5" fill="#DA914A"/>
<text transform="translate(1844.00,489.30) rotate(-90)" font-size="26.4" text-anchor="middle" class="r" fill="#1E1A1A">0</text>
<text transform="translate(1844.00,432.60) rotate(-90)" font-size="26.4" text-anchor="middle" class="r" fill="#1E1A1A">5</text>
<text transform="translate(1844.00,382.00) rotate(-90)" font-size="26.4" text-anchor="middle" class="r" fill="#1E1A1A">10</text>
<text transform="translate(1844.00,325.20) rotate(-90)" font-size="26.4" text-anchor="middle" class="r" fill="#1E1A1A">15</text>
<text transform="translate(1844.00,269.50) rotate(-90)" font-size="26.4" text-anchor="middle" class="r" fill="#1E1A1A">20</text>
<text transform="translate(1844.00,213.40) rotate(-90)" font-size="26.4" text-anchor="middle" class="r" fill="#1E1A1A">25</text>
<text transform="translate(1844.00,156.00) rotate(-90)" font-size="26.4" text-anchor="middle" class="r" fill="#1E1A1A">30</text>
<text transform="translate(1844.00,99.10) rotate(-90)" font-size="26.4" text-anchor="middle" class="r" fill="#1E1A1A">35</text>
<text transform="translate(1888,469.6) rotate(-90)" font-size="26.45" font-weight="bold" fill="#1E1A1A" stroke="#FCF1EA" stroke-width="0.3">Number of animal host orders</text>
<text transform="translate(1917.2,494.6) rotate(-90)" font-size="26.6" font-weight="bold" fill="#1E1A1A" stroke="#FCF1EA" stroke-width="0.5">where the virus has been detected</text>
</svg></body></html>
